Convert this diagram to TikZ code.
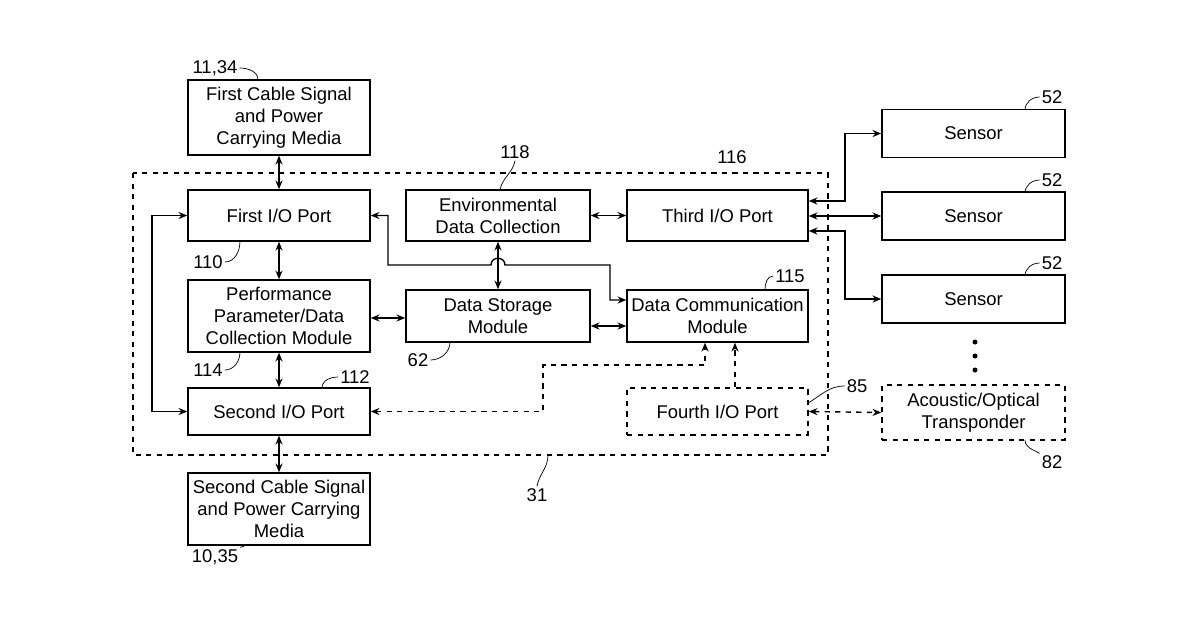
\documentclass[tikz,border=0pt]{standalone}
\usepackage{fontspec}
\setmainfont{Liberation Sans}
\usetikzlibrary{arrows.meta}

\begin{document}
\begin{tikzpicture}[x=0.02cm,y=-0.02cm,
    every node/.style={font=\fontsize{10.5}{12.5}\selectfont},
    blk/.style={draw,thick,align=center,inner sep=0pt},
    dblk/.style={blk,dashed},
    lnk/.style={thick,{Stealth[length=5pt,width=4pt]}-{Stealth[length=5pt,width=4pt]}},
    onearr/.style={thick,-{Stealth[length=5pt,width=4pt]}},
    lead/.style={thin},
    ref/.style={inner sep=1pt}]
    \useasboundingbox (0,0) rectangle (1200,630);

    % outer module
    \draw[thick,dashed] (133,173) rectangle (828,455);

    % left column
    \node[blk,minimum width=3.64cm,minimum height=1.5cm] (cab1) at (279,117.5) {First Cable Signal\\and Power\\Carrying Media};
    \node[blk,minimum width=3.64cm,minimum height=1.02cm] (io1) at (279,215.5) {First I/O Port};
    \node[blk,minimum width=3.64cm,minimum height=1.44cm] (perf) at (279,316) {Performance\\Parameter/Data\\Collection Module};
    \node[blk,minimum width=3.64cm,minimum height=0.94cm] (io2) at (279,411.5) {Second I/O Port};
    \node[blk,minimum width=3.64cm,minimum height=1.44cm] (cab2) at (279,509) {Second Cable Signal\\and Power Carrying\\Media};

    % middle and right columns
    \node[blk,minimum width=3.68cm,minimum height=1.02cm] (env) at (498,215.5) {Environmental\\Data Collection};
    \node[blk,minimum width=3.62cm,minimum height=1.02cm] (io3) at (717.5,215.5) {Third I/O Port};
    \node[blk,minimum width=3.68cm,minimum height=1.04cm] (store) at (498,316) {Data Storage\\Module};
    \node[blk,minimum width=3.62cm,minimum height=1.04cm] (comm) at (717.5,316) {Data Communication\\Module};
    \node[dblk,minimum width=3.62cm,minimum height=0.94cm] (io4) at (717.5,411.5) {Fourth I/O Port};

    % sensors and transponder
    \foreach \i/\yy in {1/133.5,2/216,3/299}
        \node[blk,minimum width=3.66cm,minimum height=0.96cm] (sens\i) at (973.5,\yy) {Sensor};
    \node[dblk,minimum width=3.66cm,minimum height=1.1cm] (trans) at (973.5,412.5) {Acoustic/Optical\\Transponder};
    \foreach \yy in {342,356,370}
        \fill (975,\yy) circle (2.5);

    % connectors
    \draw[lnk] (cab1) -- (io1);
    \draw[lnk] (io1) -- (perf);
    \draw[lnk] (perf) -- (io2);
    \draw[lnk] (io2) -- (cab2);
    \draw[lnk] (io1.west) -- (152,215.5) -- (152,411.5) -- (io2.west);
    \draw[lnk] (perf.east |- 0,318) -- (store.west |- 0,318);
    \draw[lnk] (env) -- (io3);
    \draw[lnk] (env) -- (store);
    \draw[lnk] (store.east |- 0,326) -- (comm.west |- 0,326);
    \draw[lnk] (io1.east) -- (388,215.5) -- (388,265) -- (491,265)
        .. controls (491,256) and (505,256) .. (505,265) -- (610,265) -- (610,300) -- (comm.west |- 0,300);
    \draw[thick,dashed,{Stealth[length=5pt,width=4pt]}-{Stealth[length=5pt,width=4pt]}]
        (io2.east) -- (543,411.5) -- (543,365) -- (705,365) -- (comm.south -| 705,0);
    \draw[thick,dashed,-{Stealth[length=5pt,width=4pt]}] (io4.north -| 735,0) -- (comm.south -| 735,0);
    \draw[thick,dashed,{Stealth[length=5pt,width=4pt]}-{Stealth[length=5pt,width=4pt]}] (io4.east) -- (trans.west);
    \draw[lnk] (io3.east |- 0,201) -- (845,201) -- (845,133.5) -- (sens1.west);
    \draw[lnk] (io3.east |- 0,216) -- (sens2.west);
    \draw[lnk] (io3.east |- 0,231) -- (845,231) -- (845,299) -- (sens3.west);

    % reference numerals
    \node[ref] (r1134) at (215,68) {11,34};
    \draw[lead] (r1134.east) to[out=0,in=90] (258,80);
    \node[ref] (r118) at (515,152) {118};
    \draw[lead] (r118.south) to[out=-100,in=80] (500,190);
    \node[ref] (r116) at (732,157) {116};
    \node[ref] (r110) at (208,262) {110};
    \draw[lead] (r110.east) to[out=0,in=-90] (240,241);
    \node[ref] (r114) at (208,370) {114};
    \draw[lead] (r114.east) to[out=0,in=-90] (240,352);
    \node[ref] (r112) at (355,377) {112};
    \draw[lead] (r112.west) to[out=180,in=90] (322,388);
    \node[ref] (r115) at (790,276) {115};
    \draw[lead] (r115.west) to[out=180,in=90] (765,290);
    \node[ref] (r62) at (418,360) {62};
    \draw[lead] (r62.east) to[out=0,in=-90] (450,342);
    \node[ref] (r85) at (857,386) {85};
    \draw[lead] (r85.west) to[out=180,in=30] (808,403);
    \node[ref] (r31) at (537,495) {31};
    \draw[lead] (r31.north) to[out=80,in=-90] (548,455);
    \node[ref] (r1035) at (215,557) {10,35};
    \draw[lead] (r1035.north east) to[out=30,in=-90] (245,545);
    \foreach \i/\yy in {1/97,2/180,3/263} {
        \node[ref] (r52\i) at (1052,\yy) {52};
        \draw[lead] (r52\i.west) to[out=180,in=90] (1025,\yy+13);
    }
    \node[ref] (r82) at (1052,462) {82};
    \draw[lead] (r82.north west) to[out=150,in=-90] (1025,440);
\end{tikzpicture}
\end{document}
